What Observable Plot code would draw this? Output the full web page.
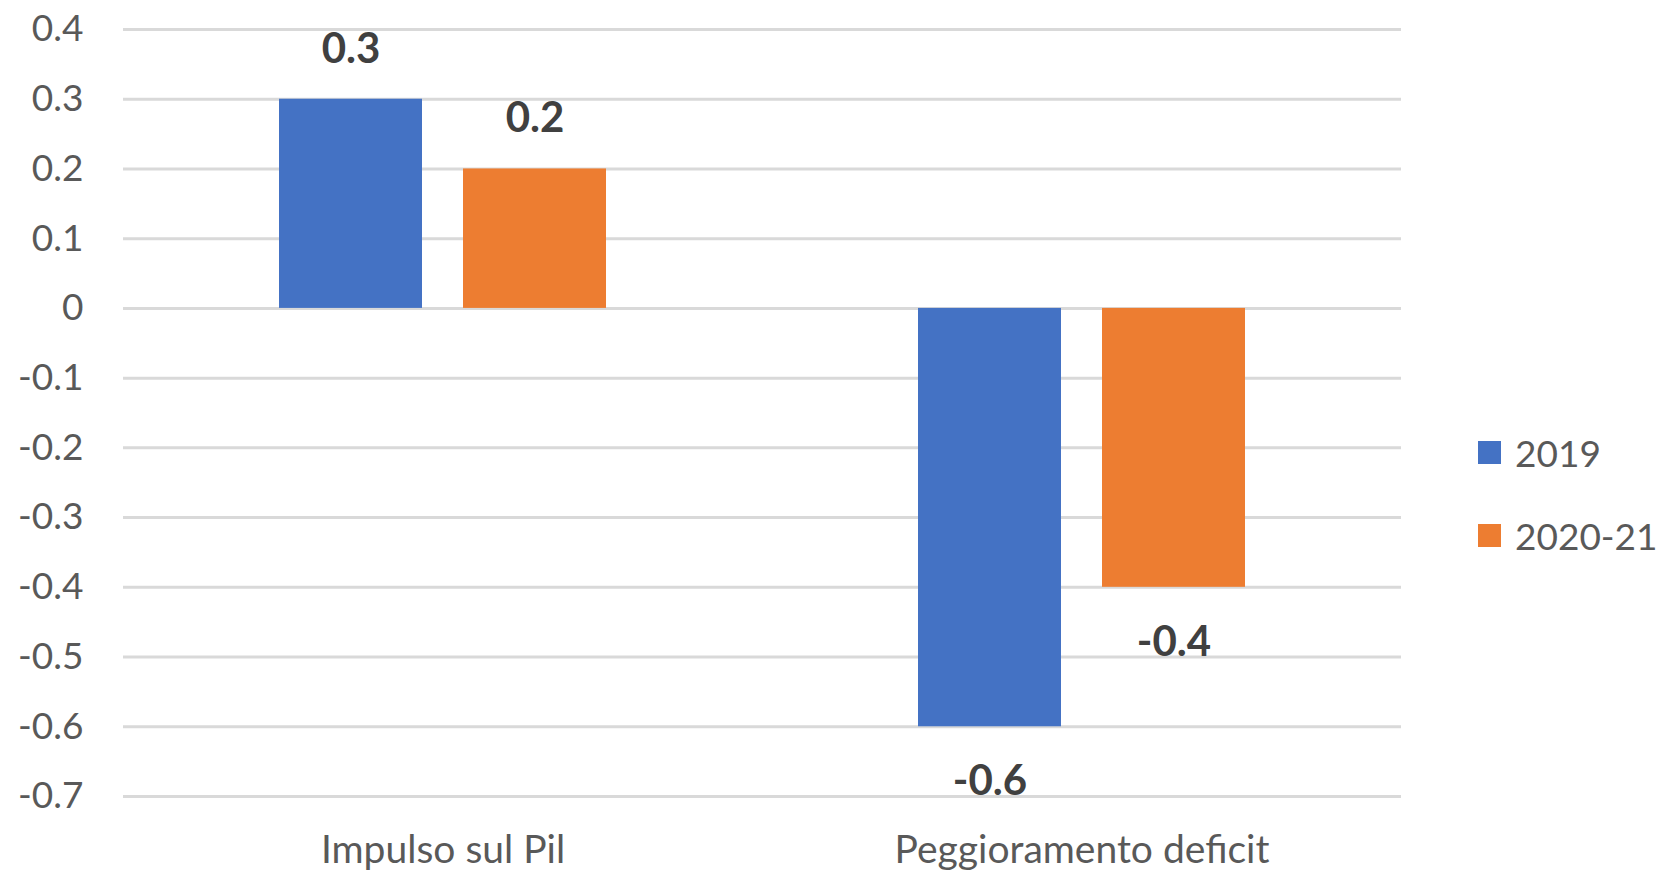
<!DOCTYPE html>
<html>
<head>
<meta charset="utf-8">
<script src="https://cdn.jsdelivr.net/npm/d3@7"></script>
<script src="https://cdn.jsdelivr.net/npm/@observablehq/plot@0.6"></script>
<style>
  html, body { margin: 0; padding: 0; background: #fff; }
  #wrap { position: relative; width: 1660px; height: 873px; overflow: hidden; }
  #legend { position: absolute; left: 1478px; top: 430px; font-family: Lato, "Liberation Sans", sans-serif; font-size: 37px; color: #595959; }
  .item { display: flex; align-items: center; height: 44px; margin-bottom: 39px; }
  .sw { width: 23px; height: 23px; margin-right: 14px; }
</style>
</head>
<body>
<div id="wrap"><div id="chart"></div><div id="legend"></div></div>
<script>
const categories = ["Impulso sul Pil", "Peggioramento deficit"];
const series = ["2019", "2020-21"];
const values2019 = [0.3, -0.6];
const values2020_21 = [0.2, -0.4];
const colors = ["#4472C4", "#ED7D31"];
const yTicks = [0.4, 0.3, 0.2, 0.1, 0, -0.1, -0.2, -0.3, -0.4, -0.5, -0.6, -0.7];

const seriesValues = [values2019, values2020_21];
const data = [];
categories.forEach((c, i) => {
  series.forEach((s, j) => data.push({category: c, series: s, value: seriesValues[j][i]}));
});
const fmt = d => String(Math.round(d * 10) / 10);

const chart = Plot.plot({
  width: 1660,
  height: 873,
  marginLeft: 122,
  marginRight: 259,
  marginTop: 29,
  marginBottom: 77,
  style: {fontFamily: "Lato, 'Liberation Sans', sans-serif", fontSize: "37px", color: "#595959", background: "#fff"},
  fx: {domain: categories, padding: 0, label: null},
  x: {domain: series, paddingInner: 0.2216, paddingOuter: 0.839, axis: null},
  y: {domain: [-0.7, 0.4], ticks: yTicks, tickFormat: fmt, tickSize: 0, tickPadding: 40, label: null},
  color: {domain: series, range: colors},
  marks: [
    Plot.ruleY(yTicks, {stroke: "#d9d9d9", strokeWidth: 3}),
    Plot.axisFx({anchor: "bottom", tickSize: 0, tickPadding: 39, fontSize: 39, label: null}),
    Plot.barY(data, {fx: "category", x: "series", y: "value", fill: "series"}),
    Plot.text(data.filter(d => d.value >= 0), {fx: "category", x: "series", y: "value", text: d => fmt(d.value), dy: -50, fontSize: 42, fontWeight: "bold", fill: "#404040", lineAnchor: "middle"}),
    Plot.text(data.filter(d => d.value < 0), {fx: "category", x: "series", y: "value", text: d => fmt(d.value), dy: 55, fontSize: 42, fontWeight: "bold", fill: "#404040", lineAnchor: "middle"})
  ]
});
document.getElementById("chart").appendChild(chart);

const legend = document.getElementById("legend");
series.forEach((s, i) => {
  const it = document.createElement("div");
  it.className = "item";
  const sw = document.createElement("div");
  sw.className = "sw";
  sw.style.background = colors[i];
  const t = document.createElement("span");
  t.textContent = s;
  it.appendChild(sw); it.appendChild(t);
  legend.appendChild(it);
});
</script>
</body>
</html>
